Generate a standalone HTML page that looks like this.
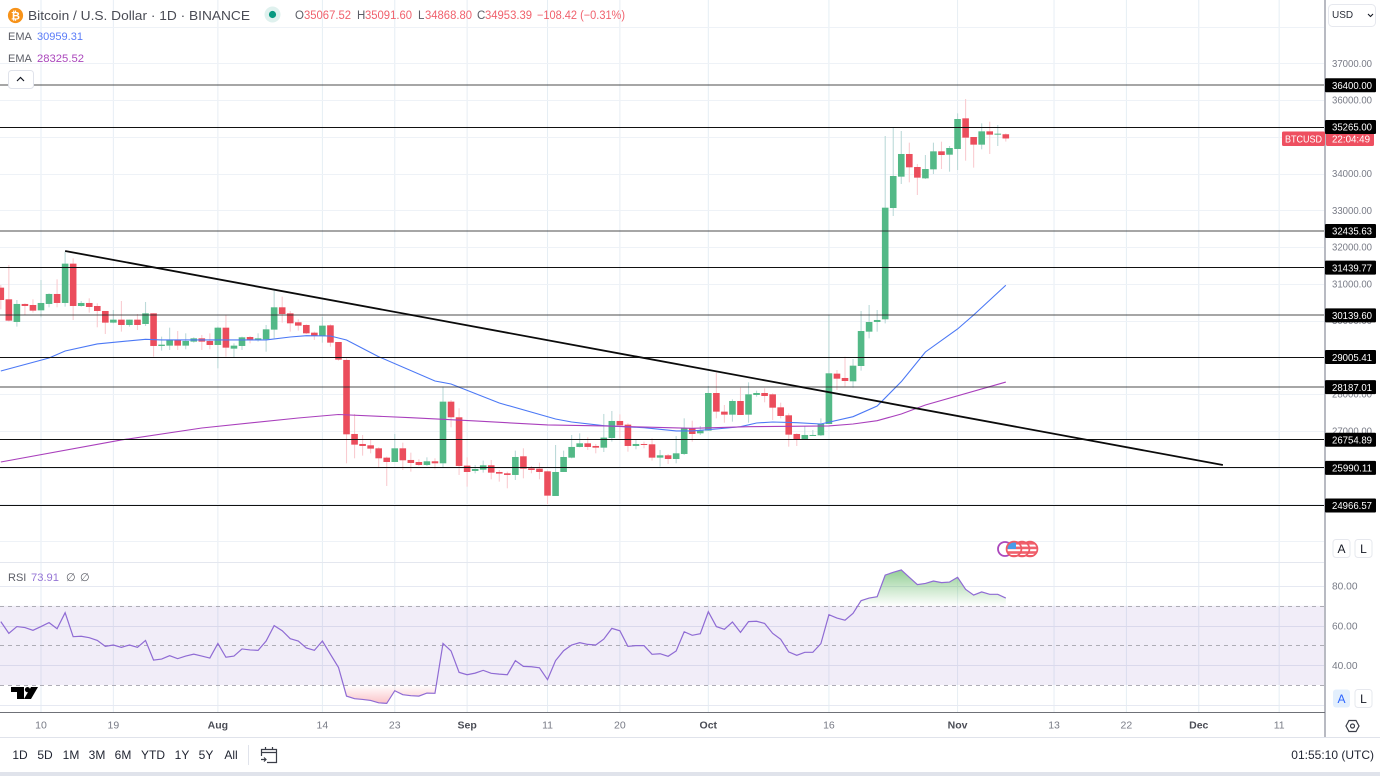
<!DOCTYPE html>
<html lang="en">
<head>
<meta charset="utf-8">
<title>Bitcoin / U.S. Dollar chart</title>
<style>
html,body{margin:0;padding:0;background:#fff;width:1380px;height:776px;overflow:hidden}
svg{display:block;font-family:"Liberation Sans",sans-serif}
text{white-space:pre}
</style>
</head>
<body>
<svg id="chart" xmlns="http://www.w3.org/2000/svg" width="1380" height="776" viewBox="0 0 1380 776">
  <defs>
    <clipPath id="pane-clip"><rect x="0" y="0" width="1324" height="562"></rect></clipPath>
    <clipPath id="rsi-clip"><rect x="0" y="563" width="1324" height="149"></rect></clipPath>
    <clipPath id="flag-clip-a"><circle cx="1014" cy="549" r="7"></circle></clipPath>
    <clipPath id="flag-clip-b"><circle cx="1022" cy="549" r="7"></circle></clipPath>
    <clipPath id="flag-clip-c"><circle cx="1030" cy="549" r="7"></circle></clipPath>
    <linearGradient id="ob-gradient" gradientUnits="userSpaceOnUse" x1="0" y1="570" x2="0" y2="606">
      <stop offset="0" stop-color="#4caf50" stop-opacity="0.6"></stop>
      <stop offset="1" stop-color="#4caf50" stop-opacity="0"></stop>
    </linearGradient>
    <linearGradient id="os-gradient" gradientUnits="userSpaceOnUse" x1="0" y1="685" x2="0" y2="705">
      <stop offset="0" stop-color="#f23645" stop-opacity="0"></stop>
      <stop offset="1" stop-color="#f23645" stop-opacity="0.32"></stop>
    </linearGradient>
  </defs>

  <g id="grid-layer"></g>
  <g id="rsi-band-layer" clip-path="url(#rsi-clip)"></g>
  <g id="candle-layer" clip-path="url(#pane-clip)"></g>
  <g id="ema-layer" clip-path="url(#pane-clip)"></g>
  <g id="level-layer"></g>
  <g id="trend-layer"></g>
  <g id="rsi-layer" clip-path="url(#rsi-clip)"></g>

  <!-- event markers -->
  <g>
    <circle cx="1005" cy="549" r="7" fill="#fff" stroke="#ab47bc" stroke-width="1.8"></circle>
    <g clip-path="url(#flag-clip-c)">
      <rect x="1022" y="541" width="16" height="16" fill="#fff"></rect>
      <rect x="1022" y="542" width="16" height="2.6" fill="#f0616d"></rect><rect x="1022" y="546.6" width="16" height="2.6" fill="#f0616d"></rect><rect x="1022" y="551.2" width="16" height="2.6" fill="#f0616d"></rect><rect x="1022" y="555" width="16" height="2.6" fill="#f0616d"></rect>
    </g>
    <circle cx="1030" cy="549" r="7.4" fill="none" stroke="#ee5a66" stroke-width="1.8"></circle>
    <g clip-path="url(#flag-clip-b)">
      <rect x="1014" y="541" width="16" height="16" fill="#fff"></rect>
      <rect x="1014" y="542" width="16" height="2.6" fill="#f0616d"></rect><rect x="1014" y="546.6" width="16" height="2.6" fill="#f0616d"></rect><rect x="1014" y="551.2" width="16" height="2.6" fill="#f0616d"></rect><rect x="1014" y="555" width="16" height="2.6" fill="#f0616d"></rect>
    </g>
    <circle cx="1022" cy="549" r="7.4" fill="none" stroke="#ee5a66" stroke-width="1.8"></circle>
    <g clip-path="url(#flag-clip-a)">
      <rect x="1006" y="541" width="16" height="16" fill="#fff"></rect>
      <rect x="1006" y="542" width="16" height="2.6" fill="#f0616d"></rect><rect x="1006" y="546.6" width="16" height="2.6" fill="#f0616d"></rect><rect x="1006" y="551.2" width="16" height="2.6" fill="#f0616d"></rect><rect x="1006" y="555" width="16" height="2.6" fill="#f0616d"></rect>
      <rect x="1006" y="541" width="10" height="8" fill="#4a9be8"></rect>
    </g>
    <circle cx="1014" cy="549" r="7.4" fill="none" stroke="#ee5a66" stroke-width="1.8"></circle>
  </g>

  <!-- TradingView logo -->
  <g fill="#000">
    <polygon points="11,687 24,687 24,699 17,699 17,692 11,692"></polygon>
    <circle cx="27.5" cy="689.6" r="2.6"></circle>
    <polygon points="31,687 38,687 31,699 24,699"></polygon>
  </g>

  <!-- pane chrome -->
  <rect x="1325" y="0" width="55" height="738" fill="#fff"></rect>
  <rect x="0" y="713" width="1325" height="25" fill="#fff"></rect>
  <line x1="1325" y1="0" x2="1325" y2="737" stroke="#b8bac2" stroke-width="2"></line>
  <line x1="0" y1="712.5" x2="1325" y2="712.5" stroke="#6f7178" stroke-width="1"></line>
  <line x1="0" y1="737.5" x2="1380" y2="737.5" stroke="#e0e3eb" stroke-width="1"></line>

  <g id="axis-layer"></g>

  <!-- legend -->
  <g>
    <circle cx="15.5" cy="15.5" r="7.6" fill="#f7931a"></circle>
    <text x="15.5" y="19.5" font-size="11" font-weight="bold" text-anchor="middle" fill="#fff">₿</text>
    <text x="28" y="20" font-size="13" fill="#4a4c55" textLength="222" lengthAdjust="spacingAndGlyphs">Bitcoin / U.S. Dollar · 1D · BINANCE</text>
    <circle cx="272.5" cy="14.5" r="8" fill="#dff1ee"></circle>
    <circle cx="272.5" cy="14.5" r="3.6" fill="#089981"></circle>
    <text x="295" y="19" font-size="11.5" fill="#5b5d66">O</text>
    <text x="304" y="19" font-size="11.5" fill="#f0616d" textLength="47" lengthAdjust="spacingAndGlyphs">35067.52</text>
    <text x="357" y="19" font-size="11.5" fill="#5b5d66">H</text>
    <text x="365" y="19" font-size="11.5" fill="#f0616d" textLength="47" lengthAdjust="spacingAndGlyphs">35091.60</text>
    <text x="418" y="19" font-size="11.5" fill="#5b5d66">L</text>
    <text x="425" y="19" font-size="11.5" fill="#f0616d" textLength="47" lengthAdjust="spacingAndGlyphs">34868.80</text>
    <text x="477" y="19" font-size="11.5" fill="#5b5d66">C</text>
    <text x="485" y="19" font-size="11.5" fill="#f0616d" textLength="47" lengthAdjust="spacingAndGlyphs">34953.39</text>
    <text x="537" y="19" font-size="11.5" fill="#f0616d" textLength="88" lengthAdjust="spacingAndGlyphs">−108.42 (−0.31%)</text>
    <text x="8" y="40" font-size="11" fill="#5b5d66">EMA</text>
    <text x="37" y="40" font-size="11" fill="#5b7cf8" textLength="46" lengthAdjust="spacingAndGlyphs">30959.31</text>
    <text x="8" y="62" font-size="11" fill="#5b5d66">EMA</text>
    <text x="37" y="62" font-size="11" fill="#ab47bc" textLength="47" lengthAdjust="spacingAndGlyphs">28325.52</text>
    <rect x="8.5" y="70.5" width="25" height="18" rx="3" fill="#fff" stroke="#e0e3eb"></rect>
    <path d="M17 81 L20.5 77.5 L24 81" fill="none" stroke="#131722" stroke-width="1.2"></path>
    <text x="8" y="581" font-size="11" fill="#5b5d66">RSI</text>
    <text x="31" y="581" font-size="11" fill="#9575d6" textLength="28" lengthAdjust="spacingAndGlyphs">73.91</text>
    <text x="66" y="581" font-size="11" fill="#5b5d66">∅</text>
    <text x="80" y="581" font-size="11" fill="#5b5d66">∅</text>
  </g>

  <!-- currency dropdown -->
  <g>
    <rect x="1328.5" y="4.5" width="47" height="22" rx="4" fill="#fff" stroke="#e6e8ee"></rect>
    <text x="1332" y="18" font-size="10" fill="#2a2e39">USD</text>
    <path d="M1368 14 L1370.5 16.5 L1373 14" fill="none" stroke="#131722" stroke-width="1.1"></path>
  </g>

  <!-- scale mode buttons -->
  <g font-size="12" text-anchor="middle">
    <rect x="1333" y="539.5" width="17" height="18" rx="3" fill="#fff" stroke="#e6e8ee"></rect>
    <text x="1341.5" y="553" fill="#131722">A</text>
    <rect x="1355" y="539.5" width="17" height="18" rx="3" fill="#fff" stroke="#e6e8ee"></rect>
    <text x="1363.5" y="553" fill="#131722">L</text>
    <rect x="1333" y="689.5" width="17" height="18" rx="3" fill="#e3effd"></rect>
    <text x="1341.5" y="703" fill="#2962ff">A</text>
    <rect x="1355" y="689.5" width="17" height="18" rx="3" fill="#fff" stroke="#e6e8ee"></rect>
    <text x="1363.5" y="703" fill="#131722">L</text>
  </g>

  <!-- settings -->
  <g fill="none" stroke="#3a3d47" stroke-width="1.2">
    <polygon points="1346,726 1349,720.5 1356,720.5 1359,726 1356,731.5 1349,731.5"></polygon>
    <circle cx="1352.5" cy="726" r="2"></circle>
  </g>

  <!-- bottom toolbar -->
  <g font-size="12" fill="#1f2330" text-anchor="middle">
    <text x="20" y="759">1D</text>
    <text x="45" y="759">5D</text>
    <text x="71" y="759">1M</text>
    <text x="97" y="759">3M</text>
    <text x="123" y="759">6M</text>
    <text x="153" y="759">YTD</text>
    <text x="182" y="759">1Y</text>
    <text x="206" y="759">5Y</text>
    <text x="231" y="759">All</text>
  </g>
  <line x1="248.5" y1="745" x2="248.5" y2="765" stroke="#e0e3eb"></line>
  <g fill="none" stroke="#3a3d47" stroke-width="1.2">
    <path d="M261.5 756 V749.5 H276.5 V762.5 H267"></path>
    <path d="M261.5 752.5 H276.5 M265.5 747 V750 M272.5 747 V750"></path>
    <path d="M261 759.5 H266 M264 757.5 L266 759.5 L264 761.5"></path>
  </g>
  <text x="1374" y="759" font-size="12" fill="#1f2330" text-anchor="end">01:55:10 (UTC)</text>
  <rect x="0" y="772" width="1380" height="4" fill="#e0e3eb"></rect>
</svg>

<script>
// Candle values: one entry per trading day, Jul 5 through Nov 7
const firstDayOffset = -5; // days relative to Jul 10
const opens = [
30894,30576,29960,30450,30422,30277,30450,30722,30477,31547,
30395,30477,30395,30259,29942,30023,29878,30023,29905,30195,
29307,29316,29461,29316,29425,29515,29443,29334,29805,29234,
29307,29551,29470,29488,29751,30359,30195,29951,29878,29669,
29579,29869,29415,28926,26912,26640,26604,26522,26268,26150,
26522,26205,26150,26069,26169,26114,27792,27366,26051,25906,
25942,26060,25878,25842,25797,26305,25978,25969,25896,25225,
25878,26268,26559,26658,26586,26540,26803,27266,27166,26586,
26640,26631,26268,26332,26232,26368,27066,26930,27003,28027,
27520,27438,27810,27438,27973,28027,27991,27637,27420,26912,
26767,26867,26876,27184,28554,28436,28345,28762,29696,29959,
30032,33061,33914,34531,34177,33868,34113,34603,34512,34667,
35501,34993,34785,35147,35057,35067.52];
const highs = [
30966,31511,30558,30468,30576,31103,30740,31121,31873,31692,
30531,30604,30468,30259,30286,30531,30023,30177,30504,30195,
29561,29805,29715,29651,29542,29606,29651,29833,30150,29379,
29561,29579,29651,29878,30812,30649,30259,30032,29896,29697,
30105,29896,29415,28971,27457,26885,26767,26549,26296,26912,
26676,26404,26223,26277,26250,28200,27837,27611,26277,26069,
26187,26205,25933,25887,26459,26522,26042,26132,25915,26613,
26459,26885,26930,26822,26640,27457,27538,27447,27203,26749,
26704,26794,26477,26368,26858,27338,27275,27130,28218,28581,
27701,27855,28173,28318,28091,28154,28018,27764,27474,26930,
27130,27021,27338,30150,28653,29016,28953,30259,30422,30286,
35020,35247,35156,34839,34259,34503,34839,34866,34748,35637,
36027,34993,35365,35410,35320,35091.6];
const lows = [
30304,29969,29833,30150,30214,30087,30359,30359,30377,30014,
30377,30214,29815,29633,29923,29697,29833,29742,29851,29016,
29180,29198,29198,29216,29397,29198,29216,28699,29016,28998,
29198,29379,29425,29152,29515,29942,29697,29724,29633,29470,
29397,29288,28908,26114,26250,26323,26386,26005,25497,26150,
25933,25887,26042,26042,25951,26005,27094,25797,25479,25842,
25860,25679,25615,25434,25661,25706,25842,25679,24998,25225,
25878,26250,26549,26477,26386,26422,26704,26794,26431,26495,
26522,26187,26023,26096,26114,26340,26703,26885,27003,27338,
27220,27247,27429,27220,27928,27774,27293,27338,26567,26585,
26749,26857,26857,27184,28109,28200,28173,28635,29515,29696,
29923,32844,33714,33760,33415,33850,33986,34122,34050,34095,
34349,34159,34658,34531,34748,34868.8];
const closes = [
30558,29996,30450,30395,30268,30477,30722,30477,31547,30395,
30477,30368,30259,29942,30023,29878,30023,29878,30195,29307,
29343,29470,29316,29443,29515,29425,29334,29805,29261,29316,
29542,29470,29515,29760,30359,30177,29923,29860,29651,29579,
29860,29397,28935,26903,26622,26586,26513,26250,26150,26522,
26196,26123,26069,26169,26114,27792,27366,26042,25878,25960,
26060,25860,25833,25797,26286,25969,25933,25878,25234,25878,
26286,26559,26658,26559,26540,26813,27266,27148,26586,26640,
26613,26268,26332,26232,26386,27066,26912,27003,28027,27520,
27438,27810,27429,27991,28027,27946,27628,27402,26894,26767,
26885,26885,27184,28563,28417,28354,28771,29714,29959,30014,
33070,33932,34531,34168,33887,34122,34603,34503,34694,35483,
34975,34785,35147,35057,35084,34953.39];

// EMA lines, read at sampled days
const emaFastDays = [-5,1,3,7,13,15,28,31,33,36,38,42,49,51,57,64,66,70,75,79,81,84,87,89,91,94,97,101,104,107,110,114,116,120];
const emaFastValues = [28626,28980,29170,29361,29489,29470,29470,29551,29587,29578,29470,29015,28354,28272,27755,27320,27238,27138,27084,26994,26994,27048,27110,27211,27238,27220,27184,27383,27674,28335,29143,29769,30150,30959.31];
const emaSlowDays = [-5,10,20,32,37,46,50,54,63,70,81,88,98,101,104,107,110,120];
const emaSlowValues = [26150,26749,27075,27347,27442,27355,27312,27266,27157,27130,27067,27110,27130,27184,27274,27456,27701,28325.52];

// RSI, one entry per candle
const rsiValues = [
62.0,56.1,59.5,59.0,57.6,59.5,61.5,58.4,66.5,54.4,
54.6,53.9,52.5,49.5,50.2,49.0,50.2,49.0,52.5,42.6,
43.1,44.8,43.3,44.6,45.6,44.6,43.6,51.0,44.0,44.6,
48.2,47.7,47.5,52.2,60.0,57.4,53.4,52.2,48.7,47.5,
52.2,45.5,38.9,24.4,23.1,22.7,22.2,21.0,20.7,27.1,
25.1,24.6,24.4,25.9,25.8,51.0,47.2,36.4,35.2,36.0,
37.4,35.9,35.5,35.2,42.3,39.4,39.2,38.7,32.7,42.3,
47.3,50.2,51.4,50.5,50.2,53.2,58.6,57.4,49.5,49.9,
49.9,45.5,45.8,44.5,47.2,56.9,55.1,55.9,67.0,59.5,
58.1,61.8,56.6,62.0,62.2,61.1,56.1,53.1,46.7,45.0,
46.5,46.5,50.9,65.5,63.8,62.7,66.2,72.6,73.9,74.6,
85.5,86.9,88.1,84.4,80.7,81.3,82.5,81.7,82.0,84.4,
78.3,75.4,77.0,75.8,75.8,73.91];

// Horizontal levels and the drawn trendline
const levelPrices = [36400,35265,32435.63,31439.77,30139.6,29005.41,28187.01,26754.89,25990.11,24966.57];
const softLevelPrices = [36400,32435.63,30139.6,28187.01];
const trendDays = [3,147];
const trendPrices = [31891,26068];

// Axis labels
const priceTicks = [38000,37000,36000,35000,34000,33000,32000,31000,30000,29000,28000,27000,26000,25000,24000];
const priceTickLabelsHidden = [38000,24000];
const rsiTicks = [80,60,40,20];
const rsiTickLabelsHidden = [20];
const rsiBands = [70,50,30];
const timeTickDays = [0,9,22,35,44,53,63,72,83,98,114,126,135,144,154];
const timeTickLabels = ['10','19','Aug','14','23','Sep','11','20','Oct','16','Nov','13','22','Dec','11'];
const monthLabels = ['Aug','Sep','Oct','Nov','Dec'];
const countdownLabel = '22:04:49';
const symbolLabel = 'BTCUSD';
const lastPriceForLabel = 34953.39;

// Axis functions
const PX_PER_DAY = 8.04, X_ZERO = 41;
const PX_PER_PRICE = 0.03675, PRICE_REF = 36000, PRICE_REF_Y = 100;
const PX_PER_RSI = 1.98, RSI_REF = 80, RSI_REF_Y = 586;
function xDay(d) { return X_ZERO + d * PX_PER_DAY; }
function yPrice(p) { return PRICE_REF_Y + (PRICE_REF - p) * PX_PER_PRICE; }
function yRsi(v) { return RSI_REF_Y + (RSI_REF - v) * PX_PER_RSI; }

const NS = 'http://www.w3.org/2000/svg';
function make(tag, parentId, attrs, text) {
  const node = document.createElementNS(NS, tag);
  for (const key in attrs) node.setAttribute(key, attrs[key]);
  if (text !== undefined) node.textContent = text;
  document.getElementById(parentId).appendChild(node);
  return node;
}
function pathFrom(xs, ys) {
  return xs.map(function (x, i) { return (i ? 'L' : 'M') + x.toFixed(2) + ' ' + ys[i].toFixed(2); }).join(' ');
}

// Grid
timeTickDays.forEach(function (d) {
  const gridV = make('line', 'grid-layer', { x1: xDay(d), x2: xDay(d), y1: 0, y2: 712, stroke: '#e6eef4', 'stroke-width': 1 });
  
  
});
priceTicks.forEach(function (p) {
  const yy = Math.round(yPrice(p)) + 0.5;
  const gridH = make('line', 'grid-layer', { x1: 0, x2: 1325, y1: yy, y2: yy, stroke: '#eef2f7', 'stroke-width': 1 });
  
  
});
rsiTicks.forEach(function (v) {
  const yy = Math.round(yRsi(v)) + 0.5;
  const gridR = make('line', 'grid-layer', { x1: 0, x2: 1325, y1: yy, y2: yy, stroke: '#e6e9f2', 'stroke-width': 1 });
  
  
});
const paneDivider = make('line', 'grid-layer', { x1: 0, x2: 1325, y1: 562.5, y2: 562.5, stroke: '#e4e7ef', 'stroke-width': 1 });



// RSI band
const bandRect = make('rect', 'rsi-band-layer', { x: 0, y: yRsi(rsiBands[0]), width: 1325, height: yRsi(rsiBands[2]) - yRsi(rsiBands[0]), fill: '#7e57c2', 'fill-opacity': 0.11 });


rsiBands.forEach(function (v) {
  const yy = Math.round(yRsi(v)) + 0.5;
  const bandLine = make('line', 'rsi-band-layer', { x1: 0, x2: 1325, y1: yy, y2: yy, stroke: '#aeadb6', 'stroke-width': 1, 'stroke-dasharray': '4 4' });
  
  
});

// Candles
opens.forEach(function (o, i) {
  const d = firstDayOffset + i;
  const c = closes[i], up = c >= o, x = xDay(d);
  const wick = make('line', 'candle-layer', { x1: x, x2: x, y1: yPrice(highs[i]), y2: yPrice(lows[i]), stroke: up ? '#bcdad9' : '#f9ccd1', 'stroke-width': 1.1 });
  
  
  const top = yPrice(Math.max(o, c)), bottom = yPrice(Math.min(o, c));
  const body = make('rect', 'candle-layer', { x: x - 3.3, y: top, width: 6.6, height: Math.max(bottom - top, 1), fill: up ? '#53b987' : '#eb4d5c' });
  
  
});

// EMA lines
const emaFastLine = make('path', 'ema-layer', { d: pathFrom(emaFastDays.map(xDay), emaFastValues.map(yPrice)), fill: 'none', stroke: '#4b78f5', 'stroke-width': 1.1 });


const emaSlowLine = make('path', 'ema-layer', { d: pathFrom(emaSlowDays.map(xDay), emaSlowValues.map(yPrice)), fill: 'none', stroke: '#a93fbc', 'stroke-width': 1.1 });



// Levels
levelPrices.forEach(function (p) {
  const soft = softLevelPrices.indexOf(p) >= 0;
  const yy = soft ? Math.round(yPrice(p)) : Math.floor(yPrice(p)) + 0.5;
  const level = make('line', 'level-layer', { x1: 0, x2: 1325, y1: yy, y2: yy, stroke: soft ? 'rgba(40,40,40,0.55)' : '#111', 'stroke-width': soft ? 1.6 : 1 });
  
  
});

// Trendline
const trendLine = make('line', 'trend-layer', { x1: xDay(trendDays[0]), y1: yPrice(trendPrices[0]), x2: xDay(trendDays[1]), y2: yPrice(trendPrices[1]), stroke: '#0b0b0b', 'stroke-width': 1.8 });



// RSI line and fills
const rsiXs = rsiValues.map(function (v, i) { return xDay(firstDayOffset + i); });
const rsiYs = rsiValues.map(yRsi);
const y70 = yRsi(70), y30 = yRsi(30);
make('clipPath', 'rsi-layer', { id: 'above-70' });
make('rect', 'above-70', { x: 0, y: 563, width: 1325, height: y70 - 563 });
make('clipPath', 'rsi-layer', { id: 'below-30' });
make('rect', 'below-30', { x: 0, y: y30, width: 1325, height: 712 - y30 });
const lineD = pathFrom(rsiXs, rsiYs);
const lastX = rsiXs[rsiXs.length - 1].toFixed(2), firstX = rsiXs[0].toFixed(2);
const obFill = make('path', 'rsi-layer', { d: lineD + ' L' + lastX + ' ' + y70 + ' L' + firstX + ' ' + y70 + ' Z', fill: 'url(#ob-gradient)', 'clip-path': 'url(#above-70)' });


const osFill = make('path', 'rsi-layer', { d: lineD + ' L' + lastX + ' ' + y30 + ' L' + firstX + ' ' + y30 + ' Z', fill: 'url(#os-gradient)', 'clip-path': 'url(#below-30)' });


const rsiLine = make('path', 'rsi-layer', { d: lineD, fill: 'none', stroke: '#8f6bd4', 'stroke-width': 1.2 });



// Price axis labels
function axisText(x, y, value, fill) {
  return make('text', 'axis-layer', { x: x, y: y + 3.7, 'font-size': 10.2, fill: fill, textLength: 40, lengthAdjust: 'spacingAndGlyphs' }, value);
}
priceTicks.forEach(function (p) {
  if (priceTickLabelsHidden.indexOf(p) >= 0) return;
  const tickLabel = axisText(1332, yPrice(p), p.toFixed(2), '#787b86');
  
  
});
rsiTicks.forEach(function (v) {
  if (rsiTickLabelsHidden.indexOf(v) >= 0) return;
  const rsiLabel = make('text', 'axis-layer', { x: 1332, y: yRsi(v) + 3.7, 'font-size': 10.2, fill: '#787b86' }, v.toFixed(2));
  
  
});

// Last price tag
const tagY = yPrice(lastPriceForLabel);
const symbolTag = make('rect', 'axis-layer', { x: 1282, y: tagY - 7, width: 43, height: 14.5, rx: 1.5, fill: '#ee4f60' });


const symbolText = make('text', 'axis-layer', { x: 1285, y: tagY + 4, 'font-size': 10.2, fill: '#fff', textLength: 37, lengthAdjust: 'spacingAndGlyphs' }, symbolLabel);


const countdownTag = make('rect', 'axis-layer', { x: 1326, y: tagY - 7, width: 48, height: 14.5, rx: 1.5, fill: '#ee4f60' });


const countdownText = make('text', 'axis-layer', { x: 1332, y: tagY + 4, 'font-size': 10.2, fill: '#fff', textLength: 38, lengthAdjust: 'spacingAndGlyphs' }, countdownLabel);



// Level tags
levelPrices.forEach(function (p) {
  const yy = yPrice(p);
  const levelTag = make('rect', 'axis-layer', { x: 1325, y: yy - 7, width: 51, height: 14, rx: 1, fill: '#000' });
  
  
  const levelText = axisText(1332, yy, p.toFixed(2), '#fff');
  
  
});

// Time axis labels
timeTickDays.forEach(function (d, i) {
  const isMonth = monthLabels.indexOf(timeTickLabels[i]) >= 0;
  const timeLabel = make('text', 'axis-layer', { x: xDay(d), y: 728.5, 'font-size': 10.5, 'text-anchor': 'middle', fill: isMonth ? '#4a4c55' : '#787b86', 'font-weight': isMonth ? 'bold' : 'normal' }, timeTickLabels[i]);
  
  
});
</script>
</body>
</html>
